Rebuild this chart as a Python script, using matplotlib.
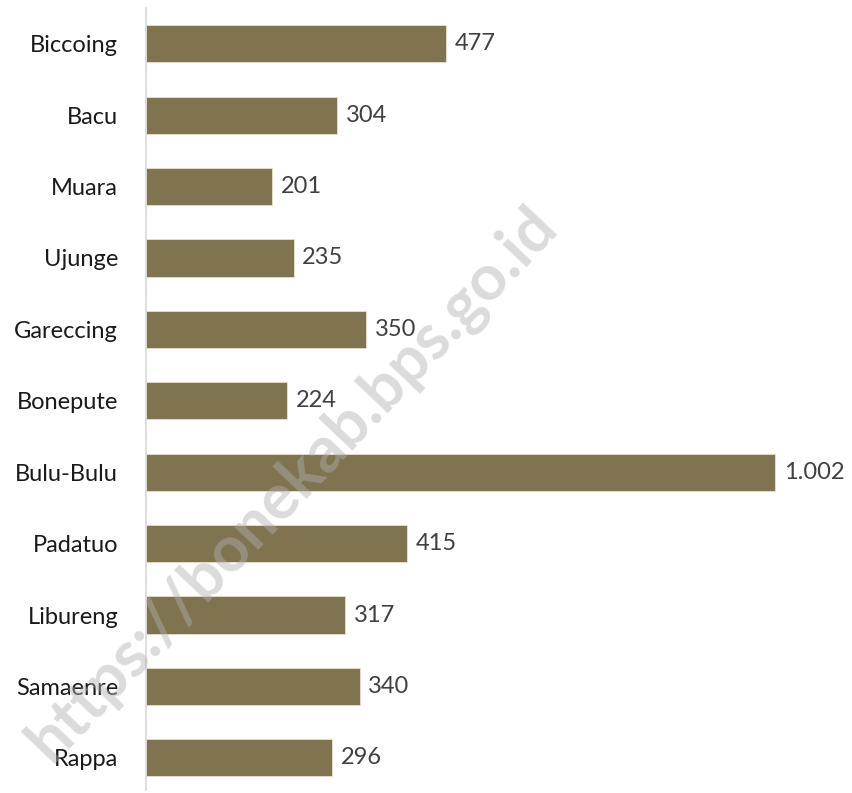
import matplotlib
matplotlib.use("Agg")
import matplotlib.pyplot as plt

categories = ["Biccoing", "Bacu", "Muara", "Ujunge", "Gareccing", "Bonepute",
              "Bulu-Bulu", "Padatuo", "Libureng", "Samaenre", "Rappa"]
values = [477, 304, 201, 235, 350, 224, 1002, 415, 317, 340, 296]

def fmt(v):
    return f"{v:,}".replace(",", ".")

plt.rcParams['font.family'] = ['Lato', 'DejaVu Sans']

fig = plt.figure(figsize=(8.53, 7.93), dpi=100)
ax = fig.add_axes([146/853, 1 - 790/793, 0.99 - 146/853, (790 - 8)/793])

y = list(range(len(categories)))
ax.barh(y, values, height=0.52, color="#7f7350", edgecolor="#e8e2cc", linewidth=0.6)
xmax = (0.99*853 - 146) / 0.628
ax.set_xlim(0, xmax)
ax.set_ylim(len(categories) - 1 + 0.45, -0.50)
ax.set_yticks(y)
ax.set_yticklabels(categories, fontsize=17, color="#1a1a1a")
ax.tick_params(axis="y", length=0, pad=20)
ax.set_xticks([])
for s in ["top", "right", "bottom"]:
    ax.spines[s].set_visible(False)
ax.spines["left"].set_color("#d9d9d9")
ax.spines["left"].set_linewidth(1.2)

for yi, v in zip(y, values):
    ax.text(v + 14, yi, fmt(v), va="center", ha="left", fontsize=17, color="#404040")

fig.text(292/853, 1 - 484/793, "https://bonekab.bps.go.id", rotation=46.5,
         ha="center", va="center", fontsize=46, fontweight="bold",
         color="#b0b0b0", alpha=0.45, zorder=10)

fig.savefig("out.png", dpi=100)
